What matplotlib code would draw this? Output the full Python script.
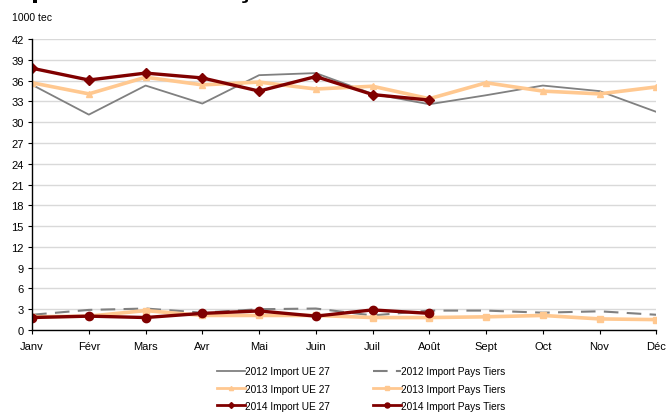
import numpy as np
import matplotlib.pyplot as plt

plt.rcParams['font.family'] = ['Liberation Sans', 'DejaVu Sans']

months = ["Janv", "Févr", "Mars", "Avr", "Mai", "Juin",
          "Juil", "Août", "Sept", "Oct", "Nov", "Déc"]

# 1000 tec
ue_2012 = [35.4, 31.1, 35.3, 32.7, 36.8, 37.1, 34.1, 32.6, 33.9, 35.3, 34.5, 31.5]
pt_2012 = [2.2, 2.9, 3.1, 2.5, 3.0, 3.1, 2.1, 2.8, 2.8, 2.5, 2.7, 2.2]
ue_2013 = [35.7, 34.1, 36.5, 35.4, 35.8, 34.8, 35.2, 33.4, 35.7, 34.5, 34.1, 35.1]
pt_2013 = [1.9, 2.0, 2.8, 2.1, 2.1, 2.1, 1.8, 1.8, 1.9, 2.1, 1.6, 1.5]
ue_2014 = [37.8, 36.1, 37.1, 36.4, 34.5, 36.6, 34.0, 33.2]
pt_2014 = [1.8, 2.0, 1.8, 2.4, 2.75, 2.0, 2.9, 2.4]

title = "Importations françaises mensuelles de viandes de porc"

gray = "#808080"
orange = "#FFC890"
dark = "#800000"

fig = plt.figure(figsize=(6.69, 4.14), dpi=100)
ax = fig.add_axes([0.048, 0.2005, 0.933, 0.7025])

x = np.arange(len(months))
x14 = np.arange(len(ue_2014))

l1, = ax.plot(x, ue_2012, color=gray, lw=1.3, label="2012 Import UE 27")
l2, = ax.plot(x, pt_2012, color=gray, lw=1.5, dashes=(7, 4), label="2012 Import Pays Tiers")
l3, = ax.plot(x, ue_2013, color=orange, lw=2.6, marker="^", ms=5, label="2013 Import UE 27")
l4, = ax.plot(x, pt_2013, color=orange, lw=2.6, marker="s", ms=5, label="2013 Import Pays Tiers")
l5, = ax.plot(x14, ue_2014, color=dark, lw=2.4, marker="D", ms=5, label="2014 Import UE 27")
l6, = ax.plot(x14, pt_2014, color=dark, lw=2.4, marker="o", ms=6, label="2014 Import Pays Tiers")

ax.set_xlim(0, 11)
ax.set_ylim(0, 42)
ax.set_yticks(np.arange(0, 43, 3))
ax.set_xticks(x)
ax.set_xticklabels(months)
ax.tick_params(axis='both', labelsize=8, length=3, color='black', pad=3)
ax.tick_params(axis='x', pad=5)
ax.yaxis.grid(True, color="#d9d9d9", lw=1)
ax.set_axisbelow(True)
for s in ("top", "right"):
    ax.spines[s].set_visible(False)
for s in ("left", "bottom"):
    ax.spines[s].set_color("black")
    ax.spines[s].set_linewidth(1)

fig.text(0.018, 0.957, "1000 tec", fontsize=7.5, va="center")
# title clipped by the top edge, as in the source
fig.text(-0.004, 1.008, title, fontsize=21, fontweight="bold", va="baseline", ha="left")

leg = fig.legend(handles=[l1, l3, l5, l2, l4, l6], loc="upper center", ncol=2,
                 bbox_to_anchor=(0.54, 0.135), frameon=False, fontsize=7.3,
                 handlelength=2.7, handletextpad=0.0, columnspacing=4.3,
                 labelspacing=0.72, markerscale=0.6)
for h in leg.get_lines():
    h.set_linewidth(min(h.get_linewidth(), 2.0))

fig.savefig("out.png", dpi=100)
